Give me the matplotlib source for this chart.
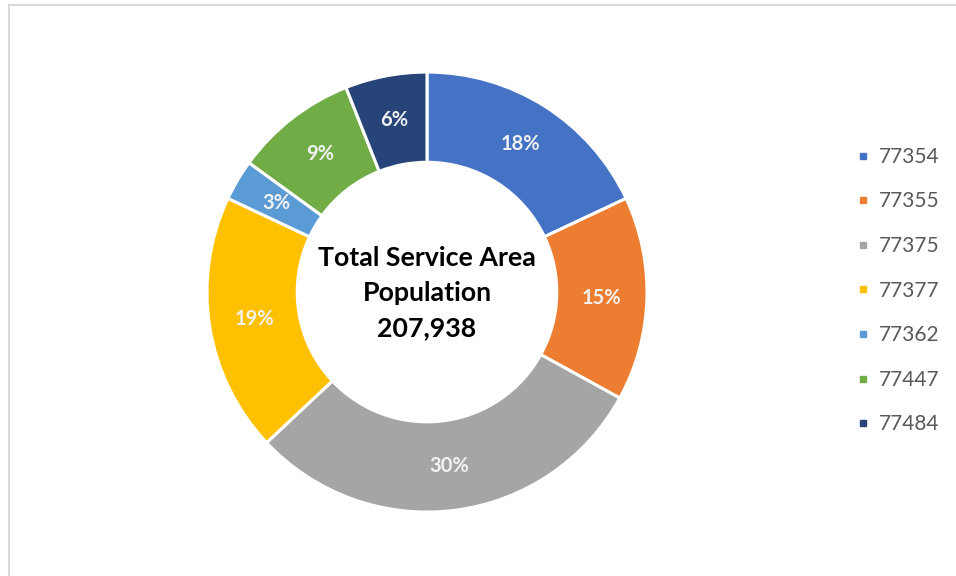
import matplotlib.pyplot as plt
from matplotlib.lines import Line2D

# service area population share by zip code
zip_codes = ["77354", "77355", "77375", "77377", "77362", "77447", "77484"]
shares = [18, 15, 30, 19, 3, 9, 6]
colors = ["#4472C4", "#ED7D31", "#A5A5A5", "#FFC000", "#5B9BD5", "#70AD47", "#264478"]
total_population = 207938

plt.rcParams["font.family"] = ["Lato", "DejaVu Sans"]

fig = plt.figure(figsize=(9.56, 5.76), dpi=100)
ax = fig.add_axes([0.2165, 0.111, 0.4603, 0.7639])

wedges, texts = ax.pie(
    shares,
    colors=colors,
    startangle=90,
    counterclock=False,
    radius=1.0,
    wedgeprops=dict(width=0.41, edgecolor="white", linewidth=2.2),
    labels=[f"{s}%" for s in shares],
    labeldistance=0.795,
    textprops=dict(color="#F2F2F2", fontsize=14.5, fontweight="bold",
                   ha="center", va="center"),
)
for t in texts:
    t.set_horizontalalignment("center")
    t.set_verticalalignment("center")

ax.text(0, -0.005, f"Total Service Area\nPopulation\n{total_population:,}",
        ha="center", va="center", fontsize=19.3, fontweight="bold",
        color="black", linespacing=1.54)
ax.set_xlim(-1, 1)
ax.set_ylim(-1, 1)
ax.set_aspect("equal")
ax.axis("off")

# legend on the right
handles = [Line2D([], [], marker="s", linestyle="none", markersize=5,
                  markerfacecolor=c, markeredgecolor=c) for c in colors]
fig.legend(handles, zip_codes, loc="upper left", bbox_to_anchor=(0.896, 0.745),
           frameon=False, fontsize=15, labelcolor="#595959",
           handlelength=0.6, handletextpad=0.45, labelspacing=1.18,
           borderaxespad=0, borderpad=0)

# light frame along top and left edges
fig.add_artist(Line2D([0.0094, 1.0], [0.991, 0.991], color="#D9D9D9", linewidth=1.5))
fig.add_artist(Line2D([0.0094, 0.0094], [0.0, 0.991], color="#D9D9D9", linewidth=1.5))

fig.savefig("out.png", dpi=100)
